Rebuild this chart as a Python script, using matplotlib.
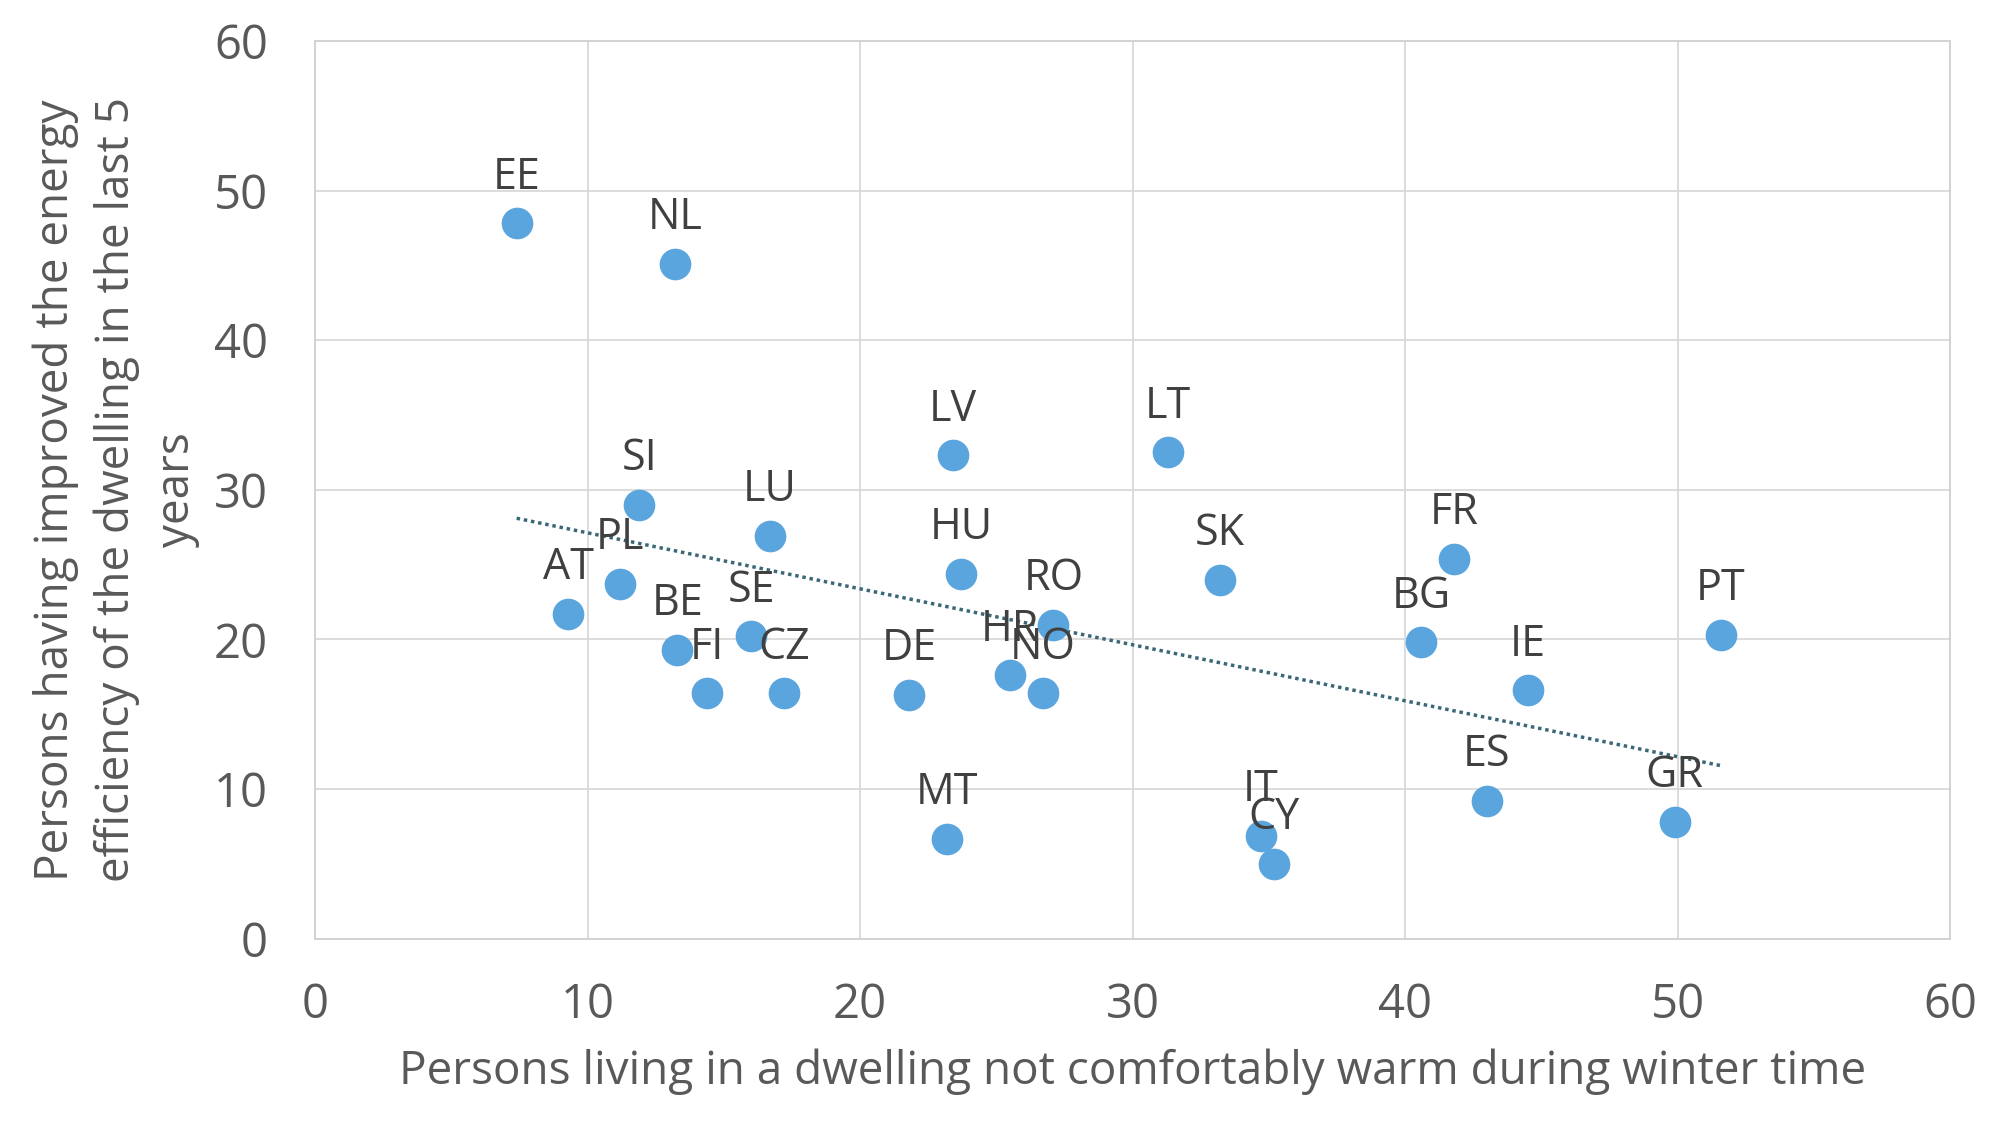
import numpy as np
import matplotlib.pyplot as plt

plt.rcParams['font.family'] = ['Open Sans', 'DejaVu Sans']

# countries and values
countries = ['EE', 'NL', 'SI', 'LU', 'LV', 'LT', 'AT', 'PL', 'BE', 'FI', 'SE', 'CZ', 'DE', 'MT',
             'HU', 'HR', 'NO', 'RO', 'SK', 'IT', 'CY', 'BG', 'FR', 'IE', 'ES', 'GR', 'PT']
not_warm = [7.4, 13.2, 11.9, 16.7, 23.4, 31.3, 9.3, 11.2, 13.3, 14.4, 16.0, 17.2, 21.8, 23.2,
            23.7, 25.5, 26.7, 27.1, 33.2, 34.7, 35.2, 40.6, 41.8, 44.5, 43.0, 49.9, 51.6]
improved = [47.8, 45.1, 29.0, 26.9, 32.3, 32.5, 21.7, 23.7, 19.3, 16.4, 20.2, 16.4, 16.3, 6.7,
            24.4, 17.6, 16.4, 21.0, 24.0, 6.9, 5.0, 19.8, 25.4, 16.6, 9.2, 7.8, 20.3]

grey_txt = '#595959'
fig = plt.figure(figsize=(20, 11.25), dpi=100)
ax = fig.add_axes([0.1575, 0.1655, 0.8175, 0.7982])

ax.scatter(not_warm, improved, s=520, color='#5BA5DF', zorder=3, linewidths=0)

# linear trendline
x = np.array(not_warm)
y = np.array(improved)
b, a = np.polyfit(x, y, 1)
xs = np.array([x.min(), x.max()])
ax.plot(xs, a + b * xs, linestyle=(0, (1, 1.1)), color='#3A6878', lw=2.5, zorder=2)

for i in range(len(countries)):
    ax.annotate(countries[i], (not_warm[i], improved[i]), xytext=(0, 25), textcoords='offset points',
                ha='center', va='baseline', fontsize=31, color='#404040', zorder=4)

ax.set_xlim(0, 60)
ax.set_ylim(0, 60)
ax.set_xticks(range(0, 61, 10))
ax.set_yticks(range(0, 61, 10))
ax.grid(True, color='#d9d9d9', lw=1.3)
ax.set_axisbelow(True)
for s in ax.spines.values():
    s.set_color('#d0d0d0')
    s.set_linewidth(1.3)
ax.tick_params(length=0, labelsize=34, labelcolor=grey_txt)
ax.tick_params(axis='y', pad=34)
ax.tick_params(axis='x', pad=31)

ax.set_xlabel('Persons living in a dwelling not comfortably warm during winter time',
              fontsize=33, color=grey_txt, labelpad=14)
ax.set_ylabel('Persons having improved the energy\nefficiency of the dwelling in the last 5\nyears',
              fontsize=33, color=grey_txt, labelpad=10, linespacing=1.4)

fig.savefig('out.png', dpi=100)
